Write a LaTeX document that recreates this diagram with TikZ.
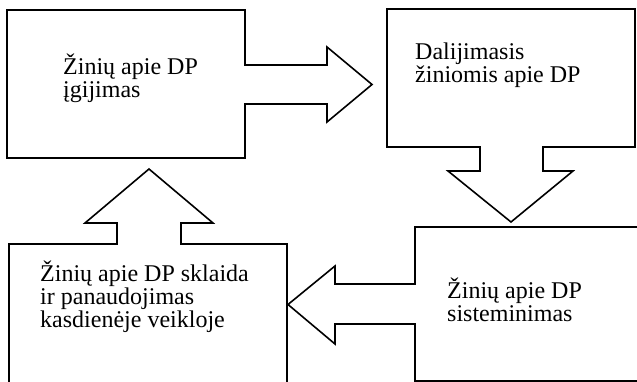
\documentclass[tikz,border=0pt]{standalone}
\usepackage{fontspec}
\setmainfont{Liberation Serif}
\begin{document}
\begin{tikzpicture}[x=1pt,y=-1pt,
  shapeline/.style={draw=black, line width=1.6pt, line join=miter},
  label/.style={anchor=base west, inner sep=0pt, align=left,
    font=\fontsize{24}{23}\selectfont}]
\useasboundingbox (0,0) rectangle (637,382);
\clip (0,0) rectangle (637,382);
% box 1 with right arrow
\draw[shapeline] (7,10) -- (245,10) -- (245,65) -- (327,65) -- (327,47) -- (372,84.5)
  -- (327,122) -- (327,104) -- (245,104) -- (245,158) -- (7,158) -- cycle;
% box 2 with down arrow
\draw[shapeline] (387,9) -- (635,9) -- (635,147) -- (543,147) -- (543,171) -- (573,171)
  -- (511,222) -- (448,171) -- (480,171) -- (480,147) -- (387,147) -- cycle;
% box 3 with left arrow
\draw[shapeline] (415,227) -- (660,227) -- (660,381) -- (415,381) -- (415,324) -- (335,324)
  -- (335,344) -- (288,304.5) -- (335,266) -- (335,284) -- (415,284) -- cycle;
% box 4 with up arrow
\draw[shapeline] (9,400) -- (9,244) -- (117,244) -- (117,223) -- (85,223) -- (149,169)
  -- (213,223) -- (181,223) -- (181,244) -- (287,244) -- (287,400);
% texts
\node[label] (t1) at (63,98) {Žinių apie DP\\įgijimas};
\node[label] (t2) at (415,83) {Dalijimasis\\žiniomis apie DP};
\node[label] (t3) at (447,321) {Žinių apie DP\\sisteminimas};
\node[label] (t4) at (40,327) {Žinių apie DP sklaida\\ir panaudojimas\\kasdienėje veikloje};
\end{tikzpicture}
\end{document}
